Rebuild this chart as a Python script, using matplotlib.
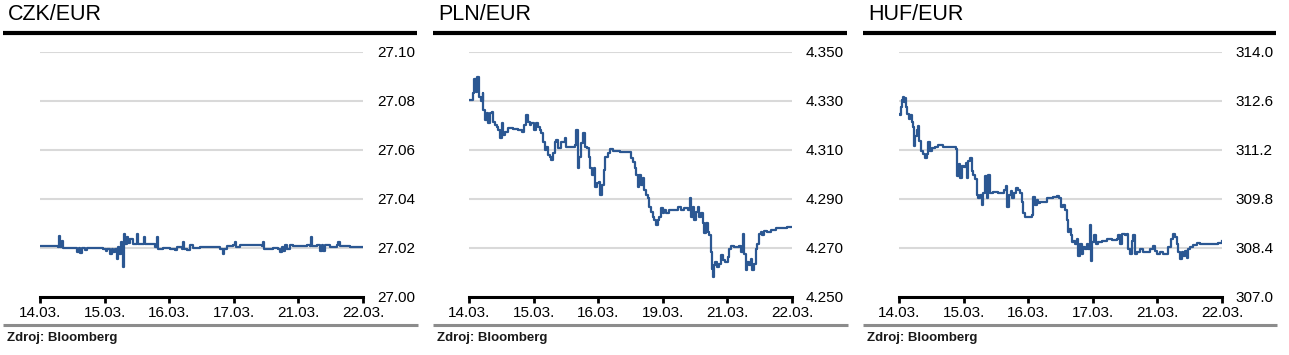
import numpy as np
import matplotlib
matplotlib.use('Agg')
import matplotlib.pyplot as plt
from matplotlib.lines import Line2D

plt.rcParams['font.family'] = ['Liberation Sans', 'DejaVu Sans']

# x axis: trading days shown on each panel (position 0..5 = tick index)
czk_days = ['14.03.', '15.03.', '16.03.', '17.03.', '21.03.', '22.03.']
pln_days = ['14.03.', '15.03.', '16.03.', '19.03.', '21.03.', '22.03.']
huf_days = ['14.03.', '15.03.', '16.03.', '17.03.', '21.03.', '22.03.']

# CZK/EUR intraday (time in days from start, rate)
czk_t = [0, 0.155, 0.284, 0.299, 0.315, 0.346, 0.361, 0.413, 0.557, 0.578, 0.599, 0.619,
         0.645, 0.697, 0.722, 0.877, 0.98, 1.022, 1.042, 1.084, 1.109, 1.135, 1.161, 1.187,
         1.202, 1.228, 1.249, 1.269, 1.29, 1.305, 1.321, 1.342, 1.362, 1.393, 1.424, 1.434,
         1.496, 1.507, 1.522, 1.6, 1.615, 1.631, 1.754, 1.78, 1.816, 1.832, 1.909, 2.012,
         2.09, 2.116, 2.193, 2.208, 2.224, 2.27, 2.322, 2.374, 2.477, 2.683, 2.786, 2.828,
         2.848, 2.89, 2.993, 3.019, 3.034, 3.096, 3.199, 3.302, 3.431, 3.447, 3.467, 3.509,
         3.612, 3.689, 3.715, 3.741, 3.767, 3.793, 3.818, 3.87, 3.922, 4.025, 4.128, 4.18,
         4.195, 4.211, 4.283, 4.334, 4.36, 4.386, 4.412, 4.489, 4.592, 4.618, 4.644, 4.799,
         4.85, 5.0]
czk_v = [27.0205, 27.0205, 27.0203, 27.0246, 27.0203, 27.0226, 27.0199, 27.0199, 27.0199,
         27.0182, 27.0199, 27.0180, 27.0199, 27.0189, 27.0199, 27.0199, 27.0196, 27.0185,
         27.0196, 27.0176, 27.0196, 27.0182, 27.0196, 27.0152, 27.0203, 27.0176, 27.0223,
         27.0196, 27.0121, 27.0257, 27.0216, 27.0244, 27.0219, 27.0234, 27.0234, 27.0216,
         27.0216, 27.0257, 27.0216, 27.0216, 27.0244, 27.0216, 27.0216, 27.0203, 27.0244,
         27.0196, 27.0199, 27.0196, 27.0189, 27.0203, 27.0196, 27.0223, 27.0196, 27.0189,
         27.0210, 27.0199, 27.0203, 27.0203, 27.0196, 27.0176, 27.0196, 27.0207, 27.0210,
         27.0223, 27.0203, 27.0210, 27.0210, 27.0210, 27.0207, 27.0223, 27.0196, 27.0196,
         27.0199, 27.0196, 27.0182, 27.0203, 27.0186, 27.0210, 27.0196, 27.0210, 27.0207,
         27.0207, 27.0210, 27.0207, 27.0244, 27.0207, 27.0210, 27.0185, 27.0210, 27.0185,
         27.0210, 27.0203, 27.0210, 27.0223, 27.0207, 27.0203, 27.0203, 27.0203]

# PLN/EUR intraday
pln_t = [0.015, 0.057, 0.082, 0.103, 0.118, 0.144, 0.154, 0.18, 0.211, 0.221, 0.247, 0.273,
         0.298, 0.324, 0.35, 0.376, 0.401, 0.427, 0.453, 0.478, 0.504, 0.53, 0.556, 0.607,
         0.684, 0.761, 0.813, 0.849, 0.89, 0.916, 0.941, 0.967, 1.003, 1.034, 1.07, 1.096,
         1.121, 1.147, 1.173, 1.199, 1.224, 1.25, 1.276, 1.301, 1.327, 1.353, 1.379, 1.43,
         1.481, 1.507, 1.584, 1.636, 1.662, 1.682, 1.703, 1.739, 1.764, 1.79, 1.826, 1.857,
         1.878, 1.908, 1.929, 1.955, 1.981, 2.006, 2.032, 2.058, 2.083, 2.099, 2.15, 2.176,
         2.227, 2.33, 2.433, 2.474, 2.5, 2.536, 2.562, 2.588, 2.613, 2.639, 2.665, 2.69,
         2.716, 2.742, 2.768, 2.793, 2.819, 2.845, 2.87, 2.896, 2.922, 2.948, 2.973, 2.999,
         3.025, 3.05, 3.102, 3.179, 3.23, 3.282, 3.333, 3.385, 3.421, 3.441, 3.462, 3.488,
         3.513, 3.539, 3.565, 3.591, 3.616, 3.642, 3.668, 3.693, 3.719, 3.745, 3.76, 3.781,
         3.796, 3.812, 3.832, 3.873, 3.899, 3.925, 3.966, 4.002, 4.028, 4.053, 4.105, 4.172,
         4.208, 4.234, 4.259, 4.285, 4.311, 4.336, 4.362, 4.388, 4.414, 4.439, 4.465, 4.491,
         4.516, 4.542, 4.568, 4.619, 4.671, 4.748, 4.851, 4.928, 5.0]
pln_v = [4.3303, 4.3330, 4.3390, 4.3337, 4.3398, 4.3398, 4.3316, 4.3300, 4.3330, 4.3262,
         4.3221, 4.3248, 4.3207, 4.3248, 4.3255, 4.3214, 4.3201, 4.3194, 4.3180, 4.3146,
         4.3207, 4.3160, 4.3174, 4.3187, 4.3183, 4.3180, 4.3174, 4.3201, 4.3242, 4.3214,
         4.3201, 4.3207, 4.3180, 4.3207, 4.3194, 4.3180, 4.3167, 4.3133, 4.3099, 4.3112,
         4.3078, 4.3072, 4.3058, 4.3085, 4.3133, 4.3140, 4.3106, 4.3133, 4.3146, 4.3112,
         4.3110, 4.3119, 4.3180, 4.3024, 4.3072, 4.3126, 4.3167, 4.3112, 4.3106, 4.3072,
         4.3024, 4.2997, 4.3024, 4.2949, 4.2963, 4.2970, 4.2915, 4.2956, 4.3017, 4.3072,
         4.3085, 4.3101, 4.3096, 4.3092, 4.3092, 4.3092, 4.3065, 4.3051, 4.3024, 4.2997,
         4.2949, 4.2997, 4.2956, 4.2983, 4.2935, 4.2915, 4.2901, 4.2867, 4.2847, 4.2827,
         4.2813, 4.2793, 4.2813, 4.2827, 4.2861, 4.2841, 4.2854, 4.2841, 4.2854, 4.2854,
         4.2867, 4.2854, 4.2861, 4.2854, 4.2901, 4.2827, 4.2867, 4.2813, 4.2847, 4.2867,
         4.2827, 4.2841, 4.2800, 4.2759, 4.2800, 4.2765, 4.2752, 4.2682, 4.2614, 4.2580,
         4.2628, 4.2642, 4.2621, 4.2635, 4.2669, 4.2648, 4.2642, 4.2662, 4.2696, 4.2705,
         4.2703, 4.2705, 4.2682, 4.2757, 4.2676, 4.2608, 4.2642, 4.2628, 4.2655, 4.2608,
         4.2635, 4.2696, 4.2716, 4.2757, 4.2764, 4.2750, 4.2767, 4.2764, 4.2771, 4.2780,
         4.2782, 4.2786, 4.2783]

# HUF/EUR intraday
huf_t = [0, 0.015, 0.031, 0.046, 0.062, 0.077, 0.093, 0.108, 0.129, 0.15, 0.17, 0.196,
         0.212, 0.232, 0.253, 0.273, 0.294, 0.315, 0.335, 0.366, 0.402, 0.428, 0.454, 0.48,
         0.506, 0.557, 0.609, 0.686, 0.764, 0.841, 0.882, 0.903, 0.924, 0.944, 0.97, 1.006,
         1.037, 1.053, 1.073, 1.099, 1.125, 1.151, 1.176, 1.202, 1.228, 1.254, 1.28, 1.305,
         1.331, 1.357, 1.383, 1.409, 1.46, 1.538, 1.589, 1.625, 1.651, 1.677, 1.703, 1.729,
         1.754, 1.78, 1.811, 1.847, 1.873, 1.899, 1.925, 1.95, 2.002, 2.054, 2.079, 2.105,
         2.131, 2.157, 2.183, 2.234, 2.286, 2.337, 2.389, 2.441, 2.482, 2.508, 2.544, 2.57,
         2.596, 2.611, 2.637, 2.657, 2.678, 2.699, 2.724, 2.75, 2.776, 2.802, 2.828, 2.854,
         2.879, 2.905, 2.931, 2.957, 2.972, 2.993, 3.019, 3.05, 3.086, 3.137, 3.215, 3.292,
         3.369, 3.395, 3.421, 3.447, 3.498, 3.524, 3.55, 3.576, 3.602, 3.627, 3.653, 3.679,
         3.731, 3.782, 3.834, 3.885, 3.927, 3.963, 3.989, 4.04, 4.092, 4.133, 4.169, 4.205,
         4.236, 4.272, 4.298, 4.324, 4.35, 4.376, 4.401, 4.427, 4.453, 4.479, 4.505, 4.556,
         4.608, 4.659, 4.763, 4.866, 4.943, 4.995]
huf_v = [312.23, 312.18, 312.43, 312.62, 312.72, 312.57, 312.67, 312.43, 312.23, 312.09,
         312.18, 311.99, 311.85, 311.31, 311.60, 311.75, 311.89, 311.46, 311.17, 311.07,
         310.97, 311.07, 311.41, 311.17, 311.25, 311.28, 311.34, 311.28, 311.28, 311.28,
         311.22, 310.44, 310.78, 310.39, 310.73, 310.70, 310.83, 310.39, 310.88, 310.97,
         310.59, 310.49, 310.35, 309.91, 309.81, 309.91, 309.62, 309.96, 310.44, 309.81,
         310.49, 309.96, 309.99, 309.96, 309.96, 310.06, 310.15, 309.57, 309.91, 310.01,
         309.81, 309.96, 310.10, 310.06, 309.96, 309.72, 309.38, 309.28, 309.28, 309.33,
         309.86, 309.62, 309.77, 309.67, 309.72, 309.72, 309.81, 309.83, 309.86, 309.89,
         309.81, 309.57, 309.62, 309.48, 309.18, 308.85, 308.94, 308.75, 308.55, 308.60,
         308.51, 308.65, 308.17, 308.51, 308.22, 308.41, 308.36, 308.51, 308.36, 309.04,
         308.02, 308.55, 308.75, 308.51, 308.55, 308.60, 308.65, 308.63, 308.65, 308.75,
         308.51, 308.80, 308.77, 308.80, 308.36, 308.22, 308.60, 308.75, 308.22, 308.27,
         308.36, 308.27, 308.27, 308.36, 308.46, 308.31, 308.22, 308.27, 308.22, 308.22,
         308.41, 308.65, 308.80, 308.70, 308.51, 308.27, 308.07, 308.27, 308.17, 308.31,
         308.12, 308.36, 308.41, 308.48, 308.54, 308.51, 308.51, 308.51, 308.54, 308.58]

czk_ticks = [27.00, 27.02, 27.04, 27.06, 27.08, 27.10]
pln_ticks = [4.250, 4.270, 4.290, 4.310, 4.330, 4.350]
huf_ticks = [307.0, 308.4, 309.8, 311.2, 312.6, 314.0]

W, H = 1289, 355
LINE = '#2b5792'
GRID = '#d9d9d9'

fig = plt.figure(figsize=(W / 100, H / 100), dpi=100)
fig.patch.set_facecolor('white')

panels = [
    # title, t, v, y ticks, fmt, x labels, axes left px, panel left px, panel right px
    ('CZK/EUR', czk_t, czk_v, czk_ticks, '{:.2f}', czk_days, 40, 3, 417),
    ('PLN/EUR', pln_t, pln_v, pln_ticks, '{:.3f}', pln_days, 469, 433, 847),
    ('HUF/EUR', huf_t, huf_v, huf_ticks, '{:.1f}', huf_days, 899, 863, 1276),
]

for title, t, v, yt, fmt, xl, ax_left, p_left, p_right in panels:
    # header: title + thick black rule
    fig.text((p_left + 5) / W, 1 - 14 / H, title, ha='left', va='center',
             fontsize=15.5, color='black')
    fig.add_artist(Line2D([p_left / W, p_right / W], [1 - 33 / H, 1 - 33 / H],
                          color='black', lw=3, solid_capstyle='butt'))
    # footer: grey rule + source
    fig.add_artist(Line2D([p_left / W, (p_right + 1) / W], [1 - 324.5 / H, 1 - 324.5 / H],
                          color='#8c8c8c', lw=2.2, solid_capstyle='butt'))
    fig.text((p_left + 4) / W, 1 - 338.5 / H, 'Zdroj: Bloomberg', ha='left', va='center',
             fontsize=9.5, fontweight='bold', color='#1a1a1a')

    ax = fig.add_axes([ax_left / W, 58.3 / H, 323 / W, 245 / H])
    ax.plot(t, v, color=LINE, lw=1.6, drawstyle='steps-post', zorder=3)
    ax.set_xlim(0, 5)
    ax.set_ylim(yt[0], yt[-1])
    ax.set_yticks(yt)
    ax.set_yticklabels([fmt.format(y) for y in yt])
    ax.yaxis.tick_right()
    ax.tick_params(axis='y', length=0, pad=10, labelsize=11, colors='black')
    ax.set_xticks(range(len(xl)))
    ax.set_xticklabels(xl)
    ax.tick_params(axis='x', direction='out', length=4, width=2, pad=3,
                   labelsize=11, colors='black')
    ax.grid(axis='y', color=GRID, lw=1.5, zorder=0)
    ax.set_axisbelow(True)
    for side in ['top', 'left', 'right']:
        ax.spines[side].set_visible(False)
    ax.spines['bottom'].set_linewidth(2.2)
    ax.spines['bottom'].set_zorder(4)

fig.savefig('out.png', dpi=100, facecolor='white')
